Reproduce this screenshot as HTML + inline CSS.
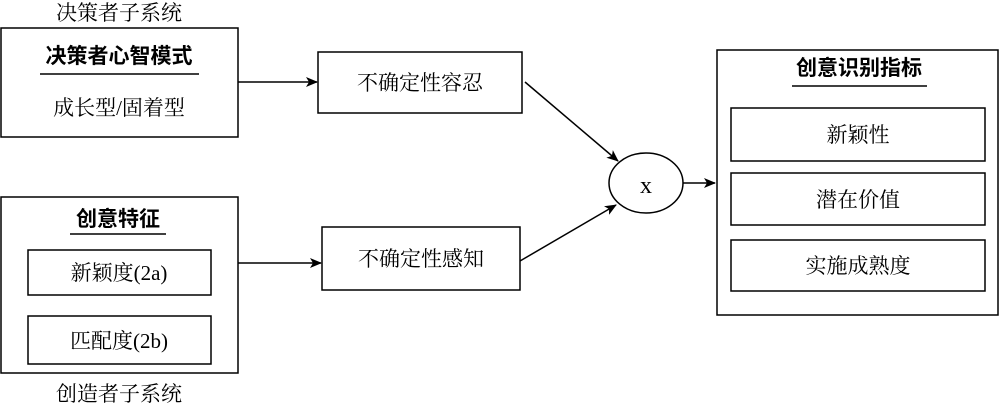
<!DOCTYPE html>
<html><head><meta charset="utf-8"><style>
html,body{margin:0;padding:0;background:#fff;}
svg text{font-family:"Liberation Serif","Noto Serif CJK SC",serif;font-size:21px;fill:#000;}
.b{font-family:"Liberation Sans","Noto Sans CJK SC",sans-serif;font-weight:bold;font-size:21px;}
.x{font-size:24px;}
</style></head><body>
<svg width="1000" height="405" viewBox="0 0 1000 405" xmlns="http://www.w3.org/2000/svg">
<defs><marker id="a" markerWidth="12" markerHeight="10" refX="11" refY="5" orient="auto" markerUnits="userSpaceOnUse"><path d="M0,0 L12,5 L0,10 L3,5 z" fill="#000"/></marker></defs>
<g fill="none" stroke="#000" stroke-width="1.5">
<rect x="1" y="28" width="237" height="109"/>
<line x1="40" y1="74" x2="199" y2="74"/>
<rect x="1" y="197" width="237" height="176"/>
<line x1="70" y1="234" x2="166" y2="234"/>
<rect x="28" y="250" width="183" height="45"/>
<rect x="28" y="316" width="183" height="48"/>
<rect x="318" y="52" width="204" height="61"/>
<rect x="322" y="227" width="198" height="63"/>
<ellipse cx="646" cy="183" rx="37" ry="30"/>
<rect x="717" y="50" width="281" height="265"/>
<line x1="792" y1="86" x2="927" y2="86"/>
<rect x="731" y="108" width="254" height="53"/>
<rect x="731" y="173" width="254" height="52"/>
<rect x="731" y="240" width="254" height="51"/>
<line x1="238" y1="82" x2="317" y2="82" marker-end="url(#a)"/>
<line x1="238" y1="263" x2="321" y2="263" marker-end="url(#a)"/>
<line x1="525" y1="82" x2="618" y2="161" marker-end="url(#a)"/>
<line x1="520" y1="261" x2="616" y2="205" marker-end="url(#a)"/>
<line x1="683" y1="183" x2="715" y2="183" marker-end="url(#a)"/>
</g>
<g text-anchor="middle">
<text x="119" y="20">决策者子系统</text>
<text class="b" x="119" y="63">决策者心智模式</text>
<text x="119" y="115">成长型/固着型</text>
<text class="b" x="118" y="226">创意特征</text>
<text x="119" y="280">新颖度(2a)</text>
<text x="119" y="348">匹配度(2b)</text>
<text x="119" y="401">创造者子系统</text>
<text x="420" y="90">不确定性容忍</text>
<text x="421" y="266">不确定性感知</text>
<text class="x" x="646" y="193">x</text>
<text class="b" x="859" y="75">创意识别指标</text>
<text x="858" y="142">新颖性</text>
<text x="858" y="207">潜在价值</text>
<text x="858" y="273">实施成熟度</text>
</g>
</svg>
</body></html>
